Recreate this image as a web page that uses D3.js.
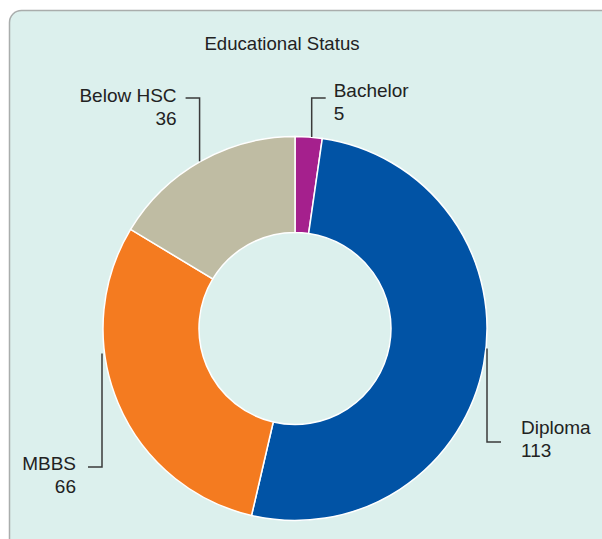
<!DOCTYPE html>
<html>
<head>
<meta charset="utf-8">
<script src="https://cdn.jsdelivr.net/npm/d3@7"></script>
<style>
  html, body { margin: 0; padding: 0; background: #ffffff; }
  svg { display: block; font-family: "Liberation Sans", Arial, Helvetica, sans-serif; }
</style>
</head>
<body>
<svg id="chart" width="602" height="539"></svg>
<script>
// Educational status of respondents
const categories = ["Bachelor", "Diploma", "MBBS", "Below HSC"];
const counts = [5, 113, 66, 36];
const sliceColors = ["#a5208d", "#0153a5", "#f47b20", "#bfbca3"];
const chartTitle = "Educational Status";

// Label placement: which side of the ring the callout sits on,
// the elbow height of the leader line and the text shift from it.
const labelSide = ["top", "side", "side", "top"];
const labelElbowY = [98, 442, 467, 98];
const labelTextDy = [-1, -8, 3, 4];

const W = 602, H = 539;
const cx = 295, cy = 328.5, outerR = 192, innerR = 96;

const svg = d3.select("#chart");

// panel
svg.append("rect")
  .attr("x", 9.5).attr("y", 10.5)
  .attr("width", W + 20).attr("height", H + 20)
  .attr("rx", 12).attr("ry", 12)
  .attr("fill", "#dcf0ed")
  .attr("stroke", "#a9adac")
  .attr("stroke-width", 1.5);

svg.append("text")
  .attr("x", 282).attr("y", 50)
  .attr("text-anchor", "middle")
  .attr("font-size", 18.6)
  .attr("fill", "#222")
  .text(chartTitle);

const rows = categories.map((c, i) => ({
  name: c, value: counts[i], color: sliceColors[i],
  side: labelSide[i], elbowY: labelElbowY[i], dy: labelTextDy[i]
}));

const pie = d3.pie().value(d => d.value).sort(null);
const arcs = pie(rows);
const arc = d3.arc().innerRadius(innerR).outerRadius(outerR);

const g = svg.append("g").attr("transform", `translate(${cx},${cy})`);

g.selectAll("path.slice")
  .data(arcs)
  .join("path")
  .attr("class", "slice")
  .attr("d", arc)
  .attr("fill", d => d.data.color)
  .attr("stroke", "#ffffff")
  .attr("stroke-width", 1.5);

// callouts
const callouts = svg.append("g");
arcs.forEach(a => {
  const mid = (a.startAngle + a.endAngle) / 2;
  const sx = Math.sin(mid), sy = -Math.cos(mid);
  const right = sx >= 0;
  const d = a.data;
  let x0, y0;
  if (d.side === "top") {
    x0 = cx + outerR * sx + (right ? 3 : -1);
    y0 = cy + outerR * sy;
  } else {
    x0 = cx + (right ? outerR : -outerR - 1);
    y0 = cy + (right ? 20 : 25);
  }
  const hx = x0 + (right ? 14 : -14);
  callouts.append("path")
    .attr("d", `M${x0},${y0}V${d.elbowY}H${hx}`)
    .attr("fill", "none")
    .attr("stroke", "#3a3a3a")
    .attr("stroke-width", 1.5);

  const tx = d.side === "top"
    ? (right ? hx + 8 : hx - 9)
    : (right ? hx + 20 : hx - 12);
  const anchor = right ? "start" : "end";
  const t = callouts.append("text")
    .attr("x", tx)
    .attr("y", d.elbowY + d.dy)
    .attr("text-anchor", anchor)
    .attr("font-size", 19)
    .attr("fill", "#222");
  t.append("tspan").attr("x", tx).text(d.name);
  t.append("tspan").attr("x", tx).attr("dy", 23).text(d.value);
});
</script>
</body>
</html>
